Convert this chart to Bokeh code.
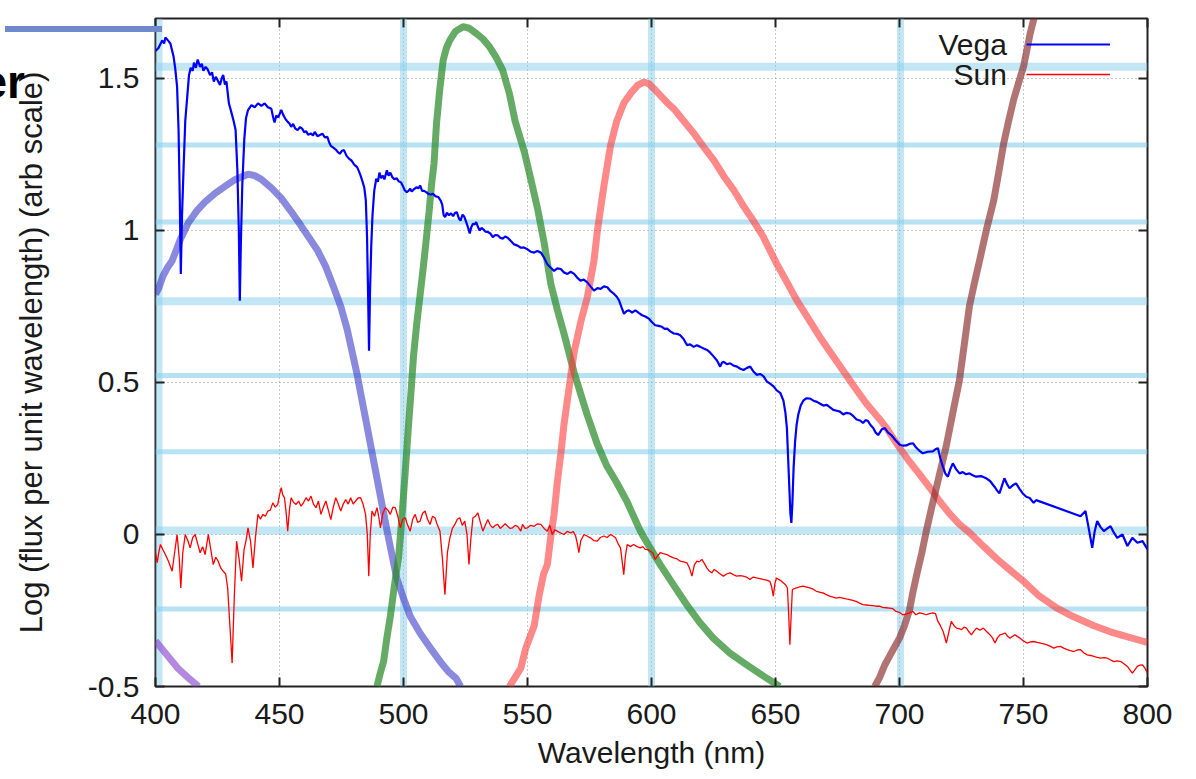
from bokeh.plotting import figure
from bokeh.layouts import column
from bokeh.models import (Range1d, FixedTicker, LinearAxis, Span, Legend, LegendItem,
                          Label, Div)
from bokeh.core.properties import value
from bokeh.embed import file_html
from bokeh.resources import INLINE

# ---------------- data ----------------
x_ticks = [400, 450, 500, 550, 600, 650, 700, 750, 800]
y_ticks = [-0.5, 0.0, 0.5, 1.0, 1.5]
y_tick_labels = ["-0.5", "0", "0.5", "1", "1.5"]
series_names = ["Vega", "Sun"]

vega_nm = [400.0, 401.2, 402.7, 403.5, 404.0, 405.0, 406.0, 407.3, 408.0, 408.7, 409.3, 409.8, 410.2, 410.7,
           411.3, 412.0, 412.7, 413.5, 414.2, 415.0, 415.5, 416.3, 417.0, 418.0, 418.7, 419.3, 420.2, 421.0,
           422.0, 422.8, 423.5, 424.3, 425.0, 426.0, 426.7, 427.3, 428.0, 428.6, 429.6, 430.7, 431.5, 432.3,
           433.0, 433.6, 434.0, 434.4, 435.0, 435.8, 436.5, 437.3, 438.7, 440.0, 441.3, 442.7, 444.0, 445.3,
           446.7, 447.5, 448.0, 448.7, 449.5, 450.7, 451.5, 452.3, 453.3, 454.0, 454.7, 455.5, 456.3, 457.3,
           458.3, 459.3, 460.0, 460.7, 461.5, 462.7, 463.5, 464.2, 465.3, 466.3, 467.3, 468.3, 469.3, 470.0,
           470.7, 471.7, 472.7, 473.5, 474.3, 475.2, 476.0, 477.0, 478.0, 479.0, 480.0, 480.7, 481.3, 482.0,
           482.7, 483.5, 484.2, 484.8, 485.3, 485.7, 486.1, 486.5, 487.0, 487.5, 488.2, 489.0, 489.7, 490.3,
           491.0, 491.7, 492.3, 493.3, 494.0, 494.7, 495.5, 496.3, 497.2, 498.0, 499.0, 499.8, 500.5, 501.3,
           502.0, 502.7, 503.3, 504.0, 505.3, 506.0, 506.7, 507.5, 508.3, 509.3, 510.0, 511.0, 512.0, 513.0,
           514.0, 515.0, 515.6, 516.2, 516.8, 517.5, 518.3, 519.2, 520.0, 520.8, 521.5, 522.3, 523.0, 523.8,
           524.5, 525.3, 526.0, 526.7, 527.3, 528.0, 528.7, 529.3, 530.0, 530.7, 531.5, 532.3, 533.0, 534.0,
           535.0, 536.0, 537.0, 538.0, 539.0, 540.0, 541.0, 542.0, 543.3, 544.6, 546.0, 547.3, 548.5, 550.0,
           551.3, 552.7, 554.0, 555.4, 556.7, 558.0, 559.3, 560.7, 562.0, 563.4, 564.7, 566.1, 567.4, 568.8,
           570.0, 571.4, 572.7, 574.1, 575.5, 576.8, 578.2, 579.5, 580.8, 582.2, 583.5, 584.9, 586.0, 586.9,
           588.0, 588.9, 590.0, 590.9, 592.2, 593.5, 595.0, 596.2, 597.5, 598.9, 600.2, 601.5, 602.9, 604.2,
           605.3, 606.3, 607.6, 609.0, 610.3, 611.6, 613.0, 614.3, 615.6, 617.0, 618.3, 619.7, 621.0, 622.4,
           623.7, 625.1, 626.4, 627.7, 628.4, 629.1, 630.4, 631.7, 633.0, 634.5, 635.8, 637.1, 638.5, 639.8,
           641.2, 642.5, 643.8, 645.2, 646.5, 647.8, 649.2, 650.5, 651.9, 653.2, 654.0, 654.6, 655.1, 655.6,
           656.0, 656.4, 656.8, 657.3, 657.9, 658.5, 659.2, 660.2, 661.3, 662.5, 664.0, 665.3, 666.7, 668.0,
           669.3, 670.7, 672.0, 673.3, 674.7, 676.0, 677.3, 678.7, 680.0, 681.3, 682.7, 684.0, 685.3, 686.3,
           687.3, 688.3, 689.4, 690.4, 691.4, 692.8, 694.1, 695.4, 696.7, 698.4, 700.1, 701.5, 702.8, 704.1,
           705.4, 706.8, 708.1, 709.4, 711.4, 713.4, 714.5, 715.5, 716.5, 717.5, 718.5, 719.5, 720.5, 721.5,
           722.8, 724.2, 725.5, 726.8, 728.2, 729.5, 730.9, 732.9, 734.9, 736.6, 738.3, 739.3, 740.3, 741.3,
           742.3, 743.4, 744.4, 745.7, 747.0, 748.4, 749.7, 751.1, 752.5, 754.1, 755.1, 773.0, 775.0, 776.3,
           777.7, 778.7, 779.7, 781.0, 782.4, 783.8, 785.1, 786.5, 787.8, 789.9, 791.9, 793.9, 795.9, 798.0,
           800.0]
vega_flux = [1.59, 1.60, 1.625, 1.615, 1.635, 1.625, 1.615, 1.571, 1.53, 1.473, 1.33, 1.10, 0.857, 1.05,
             1.20, 1.36, 1.43, 1.51, 1.535, 1.525, 1.552, 1.535, 1.562, 1.538, 1.548, 1.525, 1.538, 1.53,
             1.511, 1.52, 1.49, 1.505, 1.495, 1.478, 1.50, 1.511, 1.48, 1.49, 1.418, 1.385, 1.36, 1.33,
             1.20, 1.00, 0.769, 0.95, 1.15, 1.30, 1.37, 1.396, 1.412, 1.405, 1.418, 1.41, 1.418, 1.405,
             1.40, 1.37, 1.355, 1.378, 1.372, 1.396, 1.38, 1.368, 1.357, 1.352, 1.341, 1.35, 1.336, 1.33,
             1.34, 1.333, 1.322, 1.327, 1.315, 1.319, 1.312, 1.324, 1.31, 1.314, 1.318, 1.306, 1.308, 1.29,
             1.278, 1.272, 1.266, 1.258, 1.252, 1.262, 1.264, 1.246, 1.236, 1.23, 1.218, 1.212, 1.208, 1.195,
             1.18, 1.16, 1.14, 1.10, 0.98, 0.80, 0.604, 0.80, 0.95, 1.05, 1.13, 1.17, 1.16, 1.19,
             1.172, 1.18, 1.168, 1.198, 1.18, 1.19, 1.175, 1.168, 1.172, 1.162, 1.158, 1.145, 1.132, 1.126,
             1.13, 1.137, 1.128, 1.134, 1.142, 1.138, 1.148, 1.13, 1.13, 1.125, 1.12, 1.118, 1.12, 1.112,
             1.11, 1.098, 1.085, 1.05, 1.044, 1.058, 1.05, 1.056, 1.047, 1.058, 1.06, 1.04, 1.032, 1.052,
             1.045, 1.027, 1.01, 0.99, 1.01, 1.022, 1.02, 1.027, 1.012, 1.0, 1.008, 1.003, 0.996, 0.995,
             0.99, 0.978, 0.985, 0.984, 0.976, 0.973, 0.98, 0.976, 0.965, 0.954, 0.95, 0.943, 0.944, 0.938,
             0.93, 0.927, 0.932, 0.927, 0.91, 0.889, 0.878, 0.867, 0.875, 0.873, 0.862, 0.857, 0.864, 0.857,
             0.845, 0.835, 0.838, 0.829, 0.815, 0.802, 0.81, 0.808, 0.816, 0.813, 0.80, 0.791, 0.782, 0.77,
             0.745, 0.726, 0.735, 0.737, 0.73, 0.737, 0.728, 0.721, 0.717, 0.71, 0.698, 0.688, 0.686, 0.683,
             0.676, 0.677, 0.668, 0.661, 0.66, 0.655, 0.642, 0.623, 0.625, 0.617, 0.622, 0.617, 0.612, 0.607,
             0.598, 0.585, 0.572, 0.552, 0.565, 0.568, 0.56, 0.563, 0.556, 0.552, 0.545, 0.541, 0.548, 0.552,
             0.535, 0.525, 0.528, 0.52, 0.503, 0.496, 0.487, 0.474, 0.466, 0.44, 0.40, 0.35, 0.25, 0.15,
             0.07, 0.038, 0.10, 0.22, 0.305, 0.36, 0.395, 0.425, 0.441, 0.448, 0.447, 0.44, 0.436, 0.43,
             0.424, 0.426, 0.418, 0.41, 0.407, 0.404, 0.395, 0.40, 0.398, 0.39, 0.378, 0.375, 0.367, 0.376,
             0.373, 0.36, 0.35, 0.335, 0.327, 0.345, 0.35, 0.335, 0.327, 0.31, 0.295, 0.292, 0.293, 0.298,
             0.30, 0.285, 0.275, 0.267, 0.272, 0.273, 0.28, 0.284, 0.25, 0.223, 0.20, 0.19, 0.215, 0.234,
             0.215, 0.201, 0.205, 0.198, 0.201, 0.195, 0.19, 0.192, 0.185, 0.175, 0.157, 0.145, 0.135, 0.16,
             0.185, 0.165, 0.152, 0.162, 0.168, 0.15, 0.135, 0.124, 0.12, 0.104, 0.113, 0.06, 0.077, 0.02,
             -0.044, 0.01, 0.044, 0.025, 0.011, 0.02, 0.027, 0.005, -0.011, 0.0, -0.038, -0.011, -0.027, -0.022,
             -0.049]

sun_nm = [400.0, 400.7, 401.3, 402.0, 403.0, 404.0, 405.3, 406.7, 407.7, 408.7, 409.6, 410.2, 411.0, 412.0,
          413.0, 414.0, 415.0, 416.0, 417.0, 418.0, 419.0, 420.0, 421.3, 422.3, 423.3, 424.3, 425.3, 426.3,
          427.3, 428.3, 429.1, 430.0, 430.9, 431.8, 432.7, 433.7, 434.7, 435.7, 436.5, 437.3, 438.3, 439.3,
          440.3, 441.3, 442.3, 443.3, 444.3, 445.3, 446.3, 447.3, 448.3, 449.3, 450.0, 450.7, 451.3, 452.0,
          452.7, 453.3, 454.0, 454.7, 455.7, 456.7, 457.7, 458.7, 459.7, 460.7, 461.7, 462.7, 463.7, 464.7,
          465.7, 466.7, 467.7, 468.7, 469.7, 470.7, 471.7, 472.7, 473.7, 474.7, 475.7, 476.7, 477.7, 478.7,
          479.7, 480.7, 481.7, 482.7, 483.7, 484.7, 485.4, 486.0, 486.6, 487.3, 488.3, 489.3, 490.0, 490.7,
          491.7, 492.7, 493.7, 494.7, 495.7, 496.7, 497.7, 498.7, 499.7, 500.7, 501.7, 502.7, 503.7, 504.7,
          505.7, 506.7, 507.7, 508.7, 509.7, 510.7, 511.7, 512.7, 513.7, 514.7, 515.7, 516.7, 517.7, 518.7,
          519.7, 520.7, 521.7, 522.7, 523.7, 524.7, 525.6, 526.4, 527.2, 528.0, 529.0, 530.0, 531.0, 532.0,
          533.0, 534.0, 535.0, 536.0, 537.0, 538.0, 539.0, 540.0, 541.0, 542.0, 543.0, 544.0, 545.0, 546.0,
          547.3, 548.0, 549.0, 550.0, 551.3, 552.7, 554.0, 555.4, 556.7, 558.0, 559.0, 560.0, 561.0, 562.0,
          563.3, 564.7, 566.0, 567.4, 568.4, 569.4, 570.1, 570.7, 571.5, 572.8, 574.0, 575.4, 576.7, 578.1,
          579.4, 580.8, 582.1, 583.5, 584.5, 585.5, 586.5, 587.5, 588.2, 588.8, 589.5, 590.2, 591.5, 592.8,
          594.2, 595.5, 596.5, 597.5, 598.5, 599.5, 600.5, 601.5, 602.5, 603.5, 604.8, 606.2, 607.5, 608.9,
          610.2, 611.6, 613.0, 614.3, 615.3, 616.3, 617.3, 618.3, 619.3, 620.3, 621.3, 622.3, 623.3, 624.3,
          625.3, 626.3, 627.7, 629.0, 630.3, 631.7, 633.0, 634.3, 635.7, 637.0, 638.3, 639.7, 641.0, 642.4,
          643.7, 645.0, 646.4, 647.7, 648.4, 649.1, 649.8, 650.4, 651.8, 653.1, 654.0, 654.8, 655.3, 655.8,
          656.3, 656.8, 657.6, 658.4, 659.7, 661.1, 662.5, 663.8, 665.2, 666.5, 667.8, 669.1, 670.5, 671.8,
          673.2, 674.5, 675.8, 677.2, 678.5, 679.9, 681.2, 682.5, 683.9, 685.2, 686.6, 687.9, 689.2, 690.6,
          691.9, 693.2, 694.6, 695.9, 697.3, 698.6, 700.0, 701.3, 702.7, 704.0, 705.4, 706.6, 708.1, 709.4,
          710.8, 712.1, 713.5, 714.5, 715.5, 716.5, 717.6, 718.9, 719.9, 720.9, 722.0, 723.0, 724.0, 725.0,
          726.0, 727.0, 728.0, 729.0, 730.0, 731.1, 732.4, 733.8, 735.2, 736.5, 737.5, 738.5, 739.5, 740.5,
          741.5, 742.6, 743.6, 744.6, 745.6, 746.6, 747.6, 748.6, 750.0, 751.4, 752.8, 754.1, 755.5, 756.8,
          758.2, 759.5, 760.9, 762.2, 763.5, 764.9, 766.2, 767.6, 768.9, 770.3, 771.6, 773.0, 774.4, 775.7,
          777.0, 778.4, 779.7, 781.1, 782.5, 783.8, 785.2, 786.5, 787.8, 789.2, 790.5, 791.9, 792.9, 793.9,
          794.9, 795.9, 797.0, 798.0, 799.0, 800.0]
sun_flux = [-0.06, -0.093, -0.06, -0.033, -0.05, -0.066, -0.09, -0.121, -0.06, 0.0, -0.08, -0.176, -0.06, 0.0,
            -0.02, -0.044, -0.01, 0.0, -0.03, -0.06, -0.04, -0.066, 0.0, -0.05, -0.099, -0.075, -0.088, -0.11,
            -0.121, -0.13, -0.176, -0.30, -0.423, -0.20, -0.022, -0.08, -0.154, -0.05, -0.02, 0.022, -0.02, -0.11,
            -0.01, 0.066, 0.05, 0.066, 0.06, 0.077, 0.08, 0.104, 0.09, 0.099, 0.13, 0.154, 0.13, 0.121,
            0.07, 0.011, 0.08, 0.121, 0.105, 0.099, 0.11, 0.093, 0.105, 0.121, 0.11, 0.126, 0.10, 0.088,
            0.11, 0.066, 0.09, 0.11, 0.08, 0.049, 0.09, 0.121, 0.10, 0.077, 0.10, 0.115, 0.10, 0.121,
            0.10, 0.11, 0.12, 0.121, 0.10, 0.066, 0.0, -0.137, 0.0, 0.077, 0.06, 0.088, 0.06, 0.022,
            0.07, 0.088, 0.08, 0.066, 0.09, 0.088, 0.06, 0.022, 0.05, 0.055, 0.03, 0.011, 0.05, 0.066,
            0.04, 0.044, 0.07, 0.077, 0.05, 0.033, 0.06, 0.055, 0.03, 0.011, -0.08, -0.198, -0.06, -0.011,
            0.02, 0.033, 0.05, 0.055, 0.03, 0.044, 0.0, -0.099, -0.01, 0.055, 0.06, 0.071, 0.04, 0.011,
            0.03, 0.049, 0.03, 0.022, 0.03, 0.033, 0.02, 0.027, 0.035, 0.027, 0.02, 0.022, 0.03, 0.027,
            0.011, 0.033, 0.02, 0.022, 0.03, 0.027, 0.035, 0.033, 0.02, 0.011, 0.03, 0.0, 0.015, 0.011,
            0.005, 0.0, 0.01, 0.005, 0.01, -0.005, -0.03, -0.06, -0.02, 0.0, -0.005, -0.011, -0.02, -0.022,
            -0.01, -0.005, -0.01, 0.0, -0.005, -0.011, -0.03, -0.044, -0.09, -0.132, -0.07, -0.033, -0.04, -0.033,
            -0.04, -0.044, -0.04, -0.049, -0.05, -0.055, -0.06, -0.082, -0.07, -0.06, -0.063, -0.066, -0.072, -0.077,
            -0.08, -0.088, -0.09, -0.093, -0.11, -0.137, -0.10, -0.088, -0.09, -0.082, -0.095, -0.11, -0.12, -0.126,
            -0.115, -0.121, -0.13, -0.137, -0.13, -0.126, -0.132, -0.137, -0.135, -0.137, -0.14, -0.148, -0.14, -0.143,
            -0.145, -0.148, -0.15, -0.154, -0.17, -0.203, -0.16, -0.143, -0.15, -0.159, -0.165, -0.176, -0.26, -0.363,
            -0.27, -0.181, -0.178, -0.176, -0.172, -0.17, -0.173, -0.176, -0.18, -0.187, -0.19, -0.192, -0.198, -0.203,
            -0.206, -0.209, -0.207, -0.209, -0.212, -0.214, -0.217, -0.22, -0.226, -0.231, -0.232, -0.233, -0.234, -0.236,
            -0.236, -0.24, -0.241, -0.242, -0.244, -0.253, -0.256, -0.264, -0.262, -0.258, -0.253, -0.264, -0.258, -0.26,
            -0.264, -0.26, -0.258, -0.26, -0.286, -0.30, -0.319, -0.357, -0.32, -0.286, -0.30, -0.308, -0.31, -0.313,
            -0.305, -0.308, -0.32, -0.33, -0.318, -0.308, -0.315, -0.308, -0.32, -0.33, -0.34, -0.357, -0.34, -0.33,
            -0.328, -0.324, -0.335, -0.341, -0.335, -0.33, -0.336, -0.341, -0.35, -0.357, -0.353, -0.352, -0.355, -0.357,
            -0.36, -0.363, -0.368, -0.374, -0.37, -0.368, -0.374, -0.379, -0.382, -0.385, -0.38, -0.379, -0.39, -0.396,
            -0.398, -0.401, -0.404, -0.407, -0.405, -0.407, -0.413, -0.418, -0.416, -0.418, -0.425, -0.434, -0.445, -0.456,
            -0.445, -0.434, -0.43, -0.429, -0.44, -0.456]

# filter transmission curves (same log scale)
blue_nm = [400.0, 401.3, 403.0, 405.0, 406.7, 410.0, 413.3, 416.7, 420.0, 424.0, 428.0, 432.0, 437.3, 440.0,
           442.7, 446.7, 450.7, 454.7, 458.7, 462.0, 465.3, 468.7, 472.0, 474.7, 477.3, 479.3, 481.3, 483.3,
           485.3, 487.3, 489.3, 491.3, 493.3, 495.3, 497.3, 500.0, 502.7, 506.7, 510.7, 515.0, 518.0, 521.3, 523.0]
blue_val = [0.79, 0.81, 0.85, 0.88, 0.90, 0.97, 1.026, 1.065, 1.094, 1.122, 1.145, 1.167, 1.185, 1.18,
            1.168, 1.14, 1.106, 1.062, 1.015, 0.975, 0.935, 0.88, 0.81, 0.75, 0.674, 0.60, 0.526, 0.44,
            0.356, 0.27, 0.185, 0.10, 0.015, -0.065, -0.144, -0.21, -0.269, -0.325, -0.372, -0.42, -0.45, -0.474, -0.50]

green_nm = [489.3, 490.5, 492.0, 493.3, 494.7, 496.3, 498.0, 499.0, 500.0, 501.0, 502.0, 503.3, 504.0, 505.3,
            506.7, 508.0, 509.3, 510.3, 511.3, 512.3, 513.3, 514.7, 516.0, 517.3, 518.7, 521.0, 524.0, 526.5,
            529.3, 532.0, 534.7, 537.3, 540.0, 542.7, 545.0, 548.7, 551.3, 554.0, 556.7, 559.4, 562.0, 564.7,
            568.8, 574.0, 578.0, 582.0, 586.0, 590.0, 595.5, 599.5, 603.5, 608.8, 614.2, 619.5, 624.9, 631.6,
            638.4, 645.0, 651.7]
green_val = [-0.50, -0.46, -0.417, -0.34, -0.269, -0.17, -0.076, 0.02, 0.128, 0.24, 0.356, 0.50, 0.583, 0.69,
             0.788, 0.88, 0.98, 1.06, 1.15, 1.22, 1.35, 1.47, 1.56, 1.60, 1.626, 1.655, 1.67, 1.665,
             1.648, 1.63, 1.604, 1.57, 1.527, 1.45, 1.36, 1.259, 1.17, 1.074, 0.96, 0.824, 0.74, 0.661,
             0.532, 0.395, 0.30, 0.225, 0.17, 0.11, 0.011, -0.045, -0.099, -0.165, -0.231, -0.29, -0.341, -0.39,
             -0.429, -0.465, -0.50]

red_nm = [542.7, 545.0, 547.3, 549.3, 552.7, 554.7, 556.5, 558.0, 559.5, 560.7, 562.0, 563.5, 564.7, 566.1,
          568.8, 571.5, 574.1, 576.8, 578.2, 580.5, 583.5, 586.0, 588.9, 592.0, 594.5, 596.9, 599.0, 600.9,
          604.0, 606.3, 609.0, 613.0, 617.0, 621.0, 625.1, 629.0, 633.2, 637.1, 641.2, 645.0, 650.5, 654.6,
          658.6, 664.0, 668.0, 673.3, 678.0, 681.4, 686.7, 691.9, 694.8, 700.0, 704.0, 708.2, 713.5, 716.1,
          720.0, 724.0, 728.4, 734.0, 739.2, 745.0, 750.0, 756.0, 763.5, 770.0, 778.4, 785.0, 792.0, 798.6, 800.0]
red_val = [-0.50, -0.47, -0.44, -0.374, -0.30, -0.20, -0.13, -0.099, 0.0, 0.066, 0.17, 0.27, 0.361, 0.443,
           0.60, 0.70, 0.78, 0.90, 1.0, 1.13, 1.28, 1.36, 1.42, 1.455, 1.478, 1.488, 1.482, 1.467,
           1.44, 1.42, 1.40, 1.36, 1.32, 1.275, 1.231, 1.18, 1.132, 1.08, 1.03, 0.98, 0.89, 0.83,
           0.77, 0.70, 0.648, 0.585, 0.53, 0.49, 0.43, 0.38, 0.35, 0.285, 0.24, 0.197, 0.14, 0.11,
           0.07, 0.035, 0.005, -0.04, -0.08, -0.12, -0.154, -0.20, -0.242, -0.27, -0.30, -0.32, -0.337, -0.352, -0.355]

ir_nm = [690.0, 692.0, 694.0, 696.0, 698.0, 700.0, 702.0, 704.0, 705.4, 707.0, 709.0, 710.8, 713.0, 715.5,
         718.8, 721.5, 724.2, 726.2, 728.2, 730.3, 732.4, 735.0, 738.0, 740.0, 742.0, 744.0, 746.0, 748.0,
         750.0, 752.7, 754.0, 755.4]
ir_val = [-0.50, -0.47, -0.43, -0.40, -0.37, -0.341, -0.30, -0.25, -0.19, -0.13, -0.06, 0.011, 0.09, 0.176,
          0.289, 0.40, 0.509, 0.63, 0.751, 0.83, 0.905, 1.0, 1.099, 1.19, 1.286, 1.36, 1.429, 1.485,
          1.538, 1.648, 1.69, 1.736]

uv_nm = [400.0, 401.3, 405.0, 409.0, 413.0, 417.3]
uv_val = [-0.35, -0.363, -0.40, -0.44, -0.47, -0.50]

# light blue ruling behind the plot
band_rows_thick = [1.538, 0.767, 0.013]
band_rows_thin = [1.281, 1.028, 0.523, 0.272, -0.245]
band_cols = [401.4, 500.0, 600.0, 700.4]

# ---------------- figure ----------------
FONT = "Liberation Sans"
TXT = "#1a1a1a"

p = figure(width=1196, height=779, x_range=Range1d(400, 800), y_range=Range1d(-0.5, 1.697),
           output_backend="svg", toolbar_location=None,
           min_border_left=155, min_border_right=49, min_border_top=18, min_border_bottom=93,
           background_fill_color="white", border_fill_color="white")

band_color = "#87ceeb"
for yv in band_rows_thick:
    p.add_layout(Span(location=yv, dimension="width", line_color=band_color, line_alpha=0.5,
                      line_width=8, level="underlay"))
for yv in band_rows_thin:
    p.add_layout(Span(location=yv, dimension="width", line_color=band_color, line_alpha=0.6,
                      line_width=5, level="underlay"))
for xv in band_cols:
    p.add_layout(Span(location=xv, dimension="height", line_color=band_color, line_alpha=0.5,
                      line_width=7, level="underlay"))

# filter curves: broad translucent strokes
p.line(uv_nm, uv_val, line_color="#8a4ad0", line_alpha=0.65, line_width=7)
p.line(blue_nm, blue_val, line_color="#3a3ac8", line_alpha=0.6, line_width=7)
p.line(green_nm, green_val, line_color="#2a8a2a", line_alpha=0.72, line_width=7)
p.line(red_nm, red_val, line_color="#ff3838", line_alpha=0.6, line_width=7)
p.line(ir_nm, ir_val, line_color="#8a2a2a", line_alpha=0.66, line_width=7)

# stellar spectra
r_vega = p.line(vega_nm, vega_flux, line_color="#0000ff", line_width=2.2)
r_sun = p.line(sun_nm, sun_flux, line_color="#ff0000", line_width=1.3)

# axes
xt = FixedTicker(ticks=x_ticks)
yt = FixedTicker(ticks=y_ticks)
p.xaxis.ticker = xt
p.yaxis.ticker = yt
p.yaxis.major_label_overrides = dict(zip(y_ticks, y_tick_labels))
p.xaxis.axis_label = "Wavelength (nm)"
p.yaxis.axis_label = "Log (flux per unit wavelength) (arb scale)"

for ax in (p.xaxis[0], p.yaxis[0]):
    ax.major_tick_in = 9
    ax.major_tick_out = 0
    ax.minor_tick_in = 0
    ax.minor_tick_out = 0
    ax.axis_line_color = None
    ax.major_tick_line_color = "#222222"
    ax.major_tick_line_width = 2
    ax.major_label_text_font = FONT
    ax.major_label_text_font_size = "30px"
    ax.major_label_text_color = TXT
    ax.axis_label_text_font = FONT
    ax.axis_label_text_font_style = "normal"
    ax.axis_label_text_color = TXT

p.xaxis.axis_label_text_font_size = "30px"
p.yaxis.axis_label_text_font_size = "31px"
p.xaxis.major_label_standoff = 17
p.xaxis.axis_label_standoff = 9
p.yaxis.major_label_standoff = 16
p.yaxis.axis_label_standoff = 36

for side, tk in (("above", xt), ("right", yt)):
    mirror = LinearAxis(ticker=tk, major_tick_in=9, major_tick_out=0, minor_tick_in=0, minor_tick_out=0,
                        axis_line_color=None, major_tick_line_color="#222222", major_tick_line_width=2,
                        major_label_text_font_size="0px", major_label_standoff=0,
                        major_label_overrides={v: "" for v in tk.ticks})
    p.add_layout(mirror, side)

p.outline_line_color = "#222222"
p.outline_line_width = 2
p.outline_line_alpha = 1.0

p.xgrid.ticker = xt
p.ygrid.ticker = yt
for g in (p.xgrid[0], p.ygrid[0]):
    g.grid_line_color = "#8a8a8a"
    g.grid_line_dash = "1 3"
    g.grid_line_width = 1

# key: sample strokes from a legend, names set to their left
legend = Legend(items=[LegendItem(label=value(""), renderers=[r_vega]),
                       LegendItem(label=value(""), renderers=[r_sun])],
                location=(871, 597), orientation="vertical",
                glyph_width=84, glyph_height=30, label_height=30, label_width=0,
                label_standoff=0, label_text_font_size="1px",
                spacing=0, padding=0, margin=0,
                border_line_alpha=0, background_fill_alpha=0)
p.add_layout(legend)
for name, yb in zip(series_names, (1.610, 1.513)):
    p.add_layout(Label(x=743.3, y=yb, text=name, text_align="right", text_baseline="alphabetic",
                       text_font=FONT, text_font_size="30px", text_color=TXT))

# slide header remnants to the upper left of the chart
header_rule = Div(text="", width=157, height=6,
                  styles={"position": "absolute", "left": "0px", "top": "21px",
                          "background-color": "#7088cc"})
header_tail = Div(text="er", width=200, height=46,
                  styles={"position": "absolute", "left": "-180px", "top": "54px",
                          "text-align": "right", "font-family": "'Liberation Sans', sans-serif",
                          "font-weight": "bold", "font-size": "46px", "line-height": "46px",
                          "color": "#000000"})

root = column(p, header_rule, header_tail)
open("out.html", "w").write(file_html(root, INLINE))
